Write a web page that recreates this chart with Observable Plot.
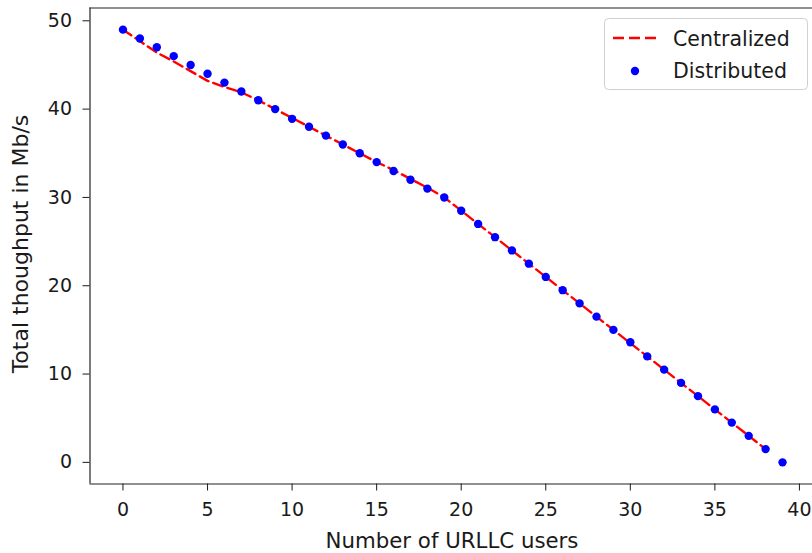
<!DOCTYPE html>
<html>
<head>
<meta charset="utf-8">
<script src="https://cdn.jsdelivr.net/npm/d3@7"></script>
<script src="https://cdn.jsdelivr.net/npm/@observablehq/plot@0.6"></script>
<style>
  html, body { margin: 0; padding: 0; background: #fff; }
  #chart { position: relative; width: 812px; height: 553px; overflow: hidden; }
</style>
</head>
<body>
<div id="chart"></div>
<script>
// Number of URLLC users (x values)
const usersDistributed = [0,1,2,3,4,5,6,7,8,9,10,11,12,13,14,15,16,17,18,19,20,21,22,23,24,25,26,27,28,29,30,31,32,33,34,35,36,37,38,39];
const usersCentralized = [0,1,2,3,4,5,6,7,8,9,10,11,12,13,14,15,16,17,18,19,20,21,22,23,24,25,26,27,28,29,30,31,32,33,34,35,36,37,38];

// Total throughput (Mb/s)
const distributedValues = [49,48,47,46,45,44,43,42,41,40,38.9,38,37,36,35,34,33,32,31,30,28.5,27,25.5,24,22.5,21,19.5,18,16.5,15,13.6,12,10.5,9,7.5,6,4.5,3,1.5,0];
const centralizedValues = [49,47.7,46.4,45.4,44.3,43.2,42.5,41.9,41.0,40,39,38,37,36,35,34,33.1,32.1,31.1,30,28.5,27,25.5,24,22.5,21,19.5,18,16.5,15,13.5,12,10.5,9,7.5,6,4.5,3,1.5];

// axes
const xTicks = [0,5,10,15,20,25,30,35,40];
const yTicks = [0,10,20,30,40,50];
const xLimits = [-1.95, 40.95];
const yLimits = [-2.45, 51.45];

const seriesNames = ["Centralized", "Distributed"];
const xLabel = "Number of URLLC users";
const yLabel = "Total thoughput in Mb/s";

const centralized = usersCentralized.map((u, i) => ({users: u, value: centralizedValues[i]}));
const distributed = usersDistributed.map((u, i) => ({users: u, value: distributedValues[i]}));

const plot = Plot.plot({
  width: 812,
  height: 553,
  marginLeft: 89.5,
  marginRight: 0,
  marginTop: 7.5,
  marginBottom: 69.5,
  style: {fontFamily: "DejaVu Sans", fontSize: "19px", color: "#1a1a1a", background: "#fff", overflow: "hidden"},
  x: {domain: xLimits, range: [89.5, 815], ticks: xTicks, tickSize: 7, tickPadding: 11, label: null},
  y: {domain: yLimits, range: [483.5, 7.5], ticks: yTicks, tickSize: 7, tickPadding: 11, label: null},
  marks: [
    Plot.line(centralized, {x: "users", y: "value", stroke: "#ff0000", strokeWidth: 2.4, strokeDasharray: "10,5"}),
    Plot.dot(distributed, {x: "users", y: "value", r: 4.2, fill: "#0000ff", stroke: "none"}),
    Plot.ruleX([xLimits[0]], {stroke: "#222", strokeWidth: 1.2}),
    Plot.ruleY([yLimits[0]], {stroke: "#222", strokeWidth: 1.2}),
    Plot.ruleY([yLimits[1]], {stroke: "#222", strokeWidth: 1.2})
  ]
});

const svg = d3.select(plot);

// axis titles
svg.append("text")
  .attr("x", 452).attr("y", 548)
  .attr("text-anchor", "middle")
  .style("font-size", "21.3px").attr("fill", "#1a1a1a")
  .text(xLabel);

svg.append("text")
  .attr("transform", "translate(28,244) rotate(-90)")
  .attr("text-anchor", "middle")
  .style("font-size", "22px").attr("fill", "#1a1a1a")
  .text(yLabel);

// legend
const lg = svg.append("g").attr("text-anchor", "start");
lg.append("rect")
  .attr("x", 604.5).attr("y", 18.5).attr("width", 203).attr("height", 71).attr("rx", 4)
  .attr("fill", "#fff").attr("fill-opacity", 0.8).attr("stroke", "#d0d0d0");
lg.append("line")
  .attr("x1", 613).attr("x2", 657).attr("y1", 38).attr("y2", 38)
  .attr("stroke", "#ff0000").attr("stroke-width", 2.4).attr("stroke-dasharray", "11,5");
lg.append("circle")
  .attr("cx", 635).attr("cy", 71).attr("r", 4.2).attr("fill", "#0000ff");
lg.append("text")
  .attr("x", 673).attr("y", 46).attr("text-anchor", "start")
  .style("font-size", "20.5px").attr("fill", "#1a1a1a")
  .text(seriesNames[0]);
lg.append("text")
  .attr("x", 673).attr("y", 78).attr("text-anchor", "start")
  .style("font-size", "20.5px").attr("fill", "#1a1a1a")
  .text(seriesNames[1]);

document.getElementById("chart").appendChild(plot);
</script>
</body>
</html>
